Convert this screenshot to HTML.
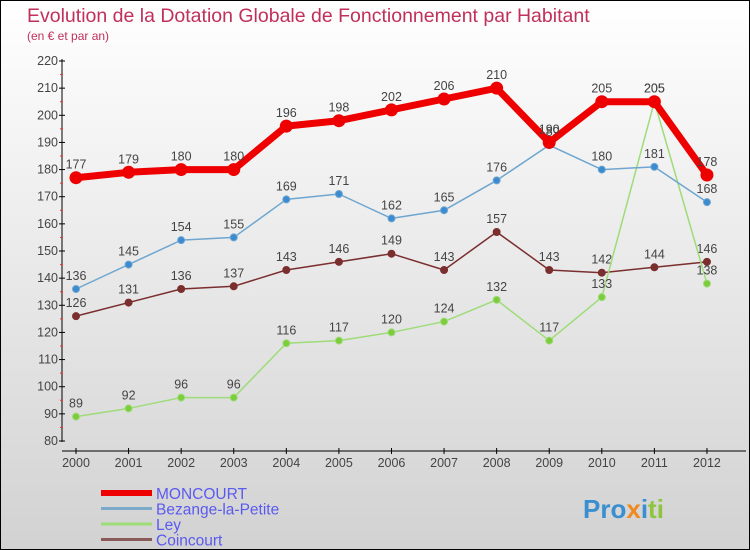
<!DOCTYPE html>
<html><head><meta charset="utf-8"><style>
body{margin:0}
#c{width:748px;height:548px;border:1px solid #000;background:linear-gradient(#fff,#d2d2d2);position:relative;overflow:hidden;font-family:"Liberation Sans",sans-serif}
</style></head><body>
<div id="c">
<svg id="s" width="748" height="548" style="position:absolute;left:0;top:0" font-family="'Liberation Sans',sans-serif">
<text x="26" y="21" font-size="19.5" fill="#c0305a">Evolution de la Dotation Globale de Fonctionnement par Habitant</text>
<text x="26" y="39" font-size="12" fill="#c0305a">(en € et par an)</text>
<g id="axes"></g><g id="series"></g><g id="legend"></g>
<text x="582" y="517" font-size="26" font-weight="bold" fill="#3a8fd0">Pro<tspan fill="#f08a20">x</tspan><tspan fill="#3a8fd0">i</tspan><tspan fill="#8cc63f">ti</tspan></text>
</svg>
</div>
<script>
const years=[2000,2001,2002,2003,2004,2005,2006,2007,2008,2009,2010,2011,2012];
const yTicks=[80,90,100,110,120,130,140,150,160,170,180,190,200,210,220];
const moncourt=[177,179,180,180,196,198,202,206,210,190,205,205,178];
const bezange=[136,145,154,155,169,171,162,165,176,189,180,181,168];
const ley=[89,92,96,96,116,117,120,124,132,117,133,205,138];
const coincourt=[126,131,136,137,143,146,149,143,157,143,142,144,146];
const NS="http://www.w3.org/2000/svg";
const X=i=>75+i*52.58;
const Y=v=>60+(220-v)*(380/140);
function mk(p,t,a){const e=document.createElementNS(NS,t);for(const k in a)e.setAttribute(k,a[k]);p.appendChild(e);return e;}
const ax=document.getElementById('axes');
let l=mk(ax,'line',{x1:61,y1:58,x2:61,y2:441,stroke:'#000'});


l=mk(ax,'line',{x1:61,y1:450,x2:745,y2:450,stroke:'#000'});


yTicks.forEach(v=>{
 mk(ax,'line',{x1:58,y1:Y(v),x2:64,y2:Y(v),stroke:'#000'});
 if(v<220)mk(ax,'line',{x1:59,y1:Y(v+5),x2:62,y2:Y(v+5),stroke:'#e33'});
 const t=mk(ax,'text',{x:57,y:Y(v)+4,'font-size':12.5,'text-anchor':'end',fill:'#444'});t.textContent=v;
 
 
});
years.forEach((y,i)=>{
 mk(ax,'line',{x1:X(i),y1:447,x2:X(i),y2:453,stroke:'#000'});
 const t=mk(ax,'text',{x:X(i),y:466,'font-size':12.5,'text-anchor':'middle',fill:'#444'});t.textContent=y;
 
 
});
const sg=document.getElementById('series');
function draw(name,data,color,w,r,fill){
 const g=mk(sg,'g',{});
 
 
 const pl=mk(g,'polyline',{points:data.map((v,i)=>X(i)+','+Y(v)).join(' '),fill:'none',stroke:color,'stroke-width':w,'stroke-linejoin':'round'});
 
 
 data.forEach((v,i)=>{
  const c=mk(g,'circle',{cx:X(i),cy:Y(v),r:r,fill:fill,stroke:color,'stroke-width':1});
  
  
  const t=mk(g,'text',{x:X(i),y:Y(v)-9,'font-size':12.5,'text-anchor':'middle',fill:'#444'});t.textContent=v;
  
  
 });
}
draw('coincourt',coincourt,'#7a2e2e',1.5,3.5,'#7a2e2e');
draw('ley',ley,'#9ddc78',1.5,3.5,'#7ccc3c');
draw('bezange',bezange,'#6ea6d0',1.5,3.5,'#3c8ad0');
draw('moncourt',moncourt,'#ee0000',7,6,'#ee0000');
const lg=document.getElementById('legend');
const items=[['MONCOURT','#ee0000',6],['Bezange-la-Petite','#7aaac8',3],['Ley','#9ddc78',3],['Coincourt','#8a5a5a',3]];
items.forEach((it,i)=>{
 const y=492+i*15.5;
 const ln=mk(lg,'line',{x1:100,y1:y,x2:151,y2:y,stroke:it[1],'stroke-width':it[2]});
 
 
 const t=mk(lg,'text',{x:155,y:y+6,'font-size':15.5,fill:'#5a5af0'});t.textContent=it[0];
 
 
});
</script>
</body></html>
